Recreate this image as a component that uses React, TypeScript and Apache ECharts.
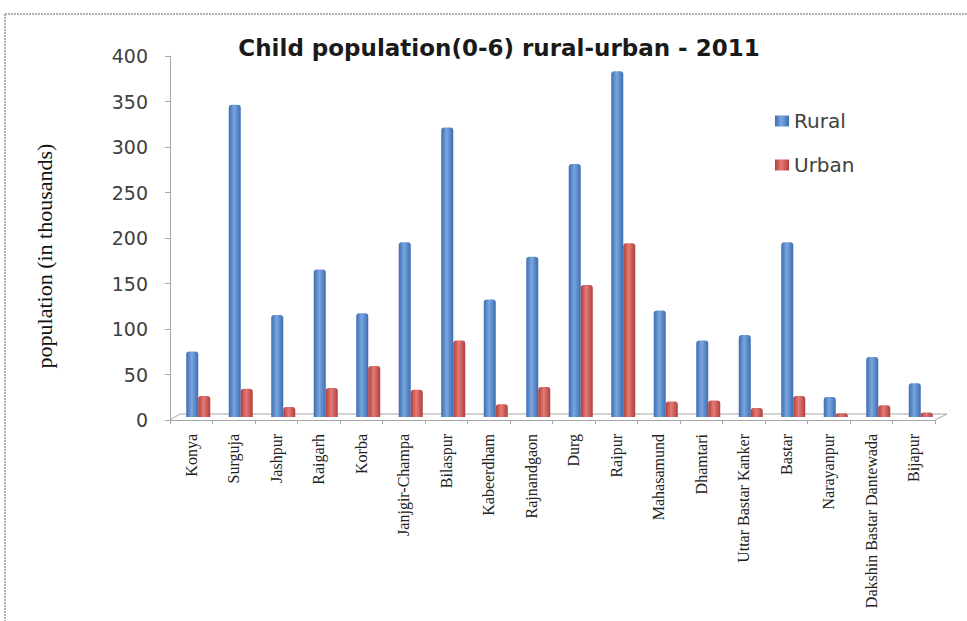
import React, { useEffect, useRef } from "react";
import * as echarts from "echarts";

const categories = [
  "Konya", "Surguja", "Jashpur", "Raigarh", "Korba", "Janjgir-Champa", "Bilaspur",
  "Kabeerdham", "Rajnandgaon", "Durg", "Raipur", "Mahasamund", "Dhamtari",
  "Uttar Bastar Kanker", "Bastar", "Narayanpur", "Dakshin Bastar Dantewada", "Bijapur",
];
const rural = [72, 343, 112, 162, 114, 192, 318, 129, 176, 278, 380, 117, 84, 90, 192, 22, 66, 37];
const urban = [23, 31, 11, 32, 56, 30, 84, 14, 33, 145, 191, 17, 18, 10, 23, 4, 13, 5];
const yTicks = { min: 0, max: 400, interval: 50 };

const grad = (a: string, b: string) =>
  new echarts.graphic.LinearGradient(0, 0, 1, 0, [
    { offset: 0, color: a },
    { offset: 0.45, color: b },
    { offset: 1, color: a },
  ]);

export default function App() {
  const ref = useRef<HTMLDivElement>(null);
  useEffect(() => {
    if (!ref.current) return;
    const chart = echarts.init(ref.current, null, { renderer: "svg" });
    chart.setOption({
      animation: false,
      backgroundColor: "#ffffff",
      title: {
        text: "Child population(0-6) rural-urban - 2011",
        left: 494,
        textAlign: "center",
        top: 31,
        textStyle: { fontFamily: "DejaVu Sans", fontWeight: "bold", fontSize: 23, color: "#1a1a1a" },
      },
      legend: {
        orient: "vertical",
        left: 770,
        top: 106,
        itemWidth: 14,
        itemHeight: 11,
        itemGap: 24,
        icon: "rect",
        textStyle: { fontFamily: "DejaVu Sans", fontSize: 20, color: "#404040" },
        data: ["Rural", "Urban"],
      },
      grid: [
        { left: 170, right: 32, top: 56, bottom: 201 },
        { left: 177, right: 25, top: 53, bottom: 204 },
      ],
      xAxis: [
        {
          type: "category",
          gridIndex: 0,
          data: categories,
          axisLine: { lineStyle: { color: "#a6a6a6" } },
          axisTick: { show: true, lineStyle: { color: "#a6a6a6" }, length: 4 },
          axisLabel: {
            rotate: 90,
            interval: 0,
            margin: 14,
            fontFamily: "Liberation Serif",
            fontSize: 16,
            color: "#222",
          },
        },
        {
          type: "category",
          gridIndex: 1,
          data: categories,
          show: false,
        },
      ],
      yAxis: [
        {
          type: "value",
          gridIndex: 0,
          min: yTicks.min,
          max: yTicks.max,
          interval: yTicks.interval,
          axisLine: { show: true, lineStyle: { color: "#a6a6a6" } },
          axisTick: { show: true, lineStyle: { color: "#a6a6a6" }, length: 5 },
          splitLine: { show: false },
          axisLabel: { fontFamily: "DejaVu Sans", fontSize: 19, color: "#404040", margin: 22 },
        },
        {
          type: "value",
          gridIndex: 1,
          min: yTicks.min,
          max: yTicks.max,
          interval: yTicks.interval,
          show: false,
          splitLine: { show: false },
        },
      ],
      graphic: [
        {
          type: "line",
          shape: { x1: 5, y1: 14, x2: 967, y2: 14 },
          style: { stroke: "#9a9a9a", lineWidth: 1.5, lineDash: [2, 1] },
        },
        {
          type: "line",
          shape: { x1: 5, y1: 14, x2: 5, y2: 621 },
          style: { stroke: "#9a9a9a", lineWidth: 1.5, lineDash: [2, 1] },
        },
        {
          type: "polyline",
          shape: { points: [[170, 420], [180, 414], [947, 414], [935, 420]] },
          style: { stroke: "#a6a6a6", fill: "none", lineWidth: 1 },
        },
        {
          type: "text",
          x: 44,
          y: 256,
          rotation: Math.PI / 2,
          style: {
            text: "population (in thousands)",
            fontFamily: "Liberation Serif",
            fontSize: 22,
            fill: "#111",
            align: "center",
            verticalAlign: "middle",
          },
        },
      ],
      series: [
        {
          name: "Rural",
          type: "bar",
          xAxisIndex: 1,
          yAxisIndex: 1,
          data: rural,
          barWidth: 12,
          barGap: "0%",
          color: "#4f81bd",
          itemStyle: { color: grad("#3d6db0", "#7aa6e0"), borderRadius: [3, 3, 0, 0] },
        },
        {
          name: "Urban",
          type: "bar",
          xAxisIndex: 1,
          yAxisIndex: 1,
          data: urban,
          barWidth: 12,
          barGap: "0%",
          color: "#c0504d",
          itemStyle: { color: grad("#b03f3b", "#e57a76"), borderRadius: [3, 3, 0, 0] },
        },
      ],
    });
    return () => chart.dispose();
  }, []);
  return (
    <div
      ref={ref}
      style={{ position: "absolute", left: 0, top: 0, width: 967, height: 621 }}
    />
  );
}
